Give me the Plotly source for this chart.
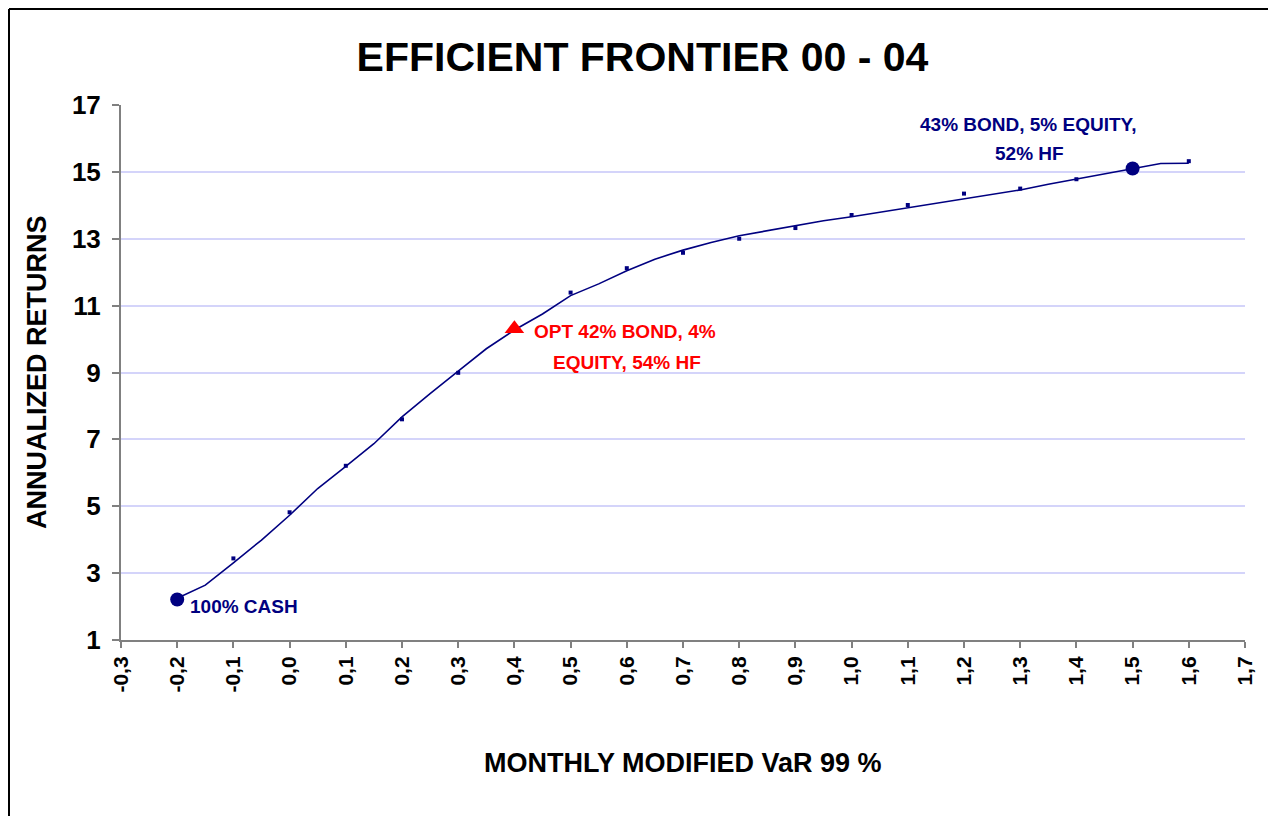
import plotly.graph_objects as go

# Frontier line
line_var = [-0.20, -0.15, -0.10, -0.05, 0.00, 0.05, 0.10, 0.15, 0.20, 0.25, 0.30, 0.35,
            0.40, 0.45, 0.50, 0.55, 0.60, 0.65, 0.70, 0.75, 0.80, 0.85, 0.90, 0.95,
            1.00, 1.05, 1.10, 1.15, 1.20, 1.25, 1.30, 1.35, 1.40, 1.45, 1.50, 1.55, 1.60]
line_ret = [2.25, 2.64, 3.31, 3.99, 4.73, 5.53, 6.19, 6.87, 7.67, 8.37, 9.04, 9.71,
            10.27, 10.75, 11.30, 11.65, 12.04, 12.39, 12.66, 12.89, 13.09, 13.24, 13.39, 13.54,
            13.66, 13.79, 13.92, 14.06, 14.18, 14.33, 14.46, 14.63, 14.78, 14.93, 15.10, 15.25, 15.26]

# Sample portfolios (small square points)
pt_var = [-0.1, 0.0, 0.1, 0.2, 0.3, 0.5, 0.6, 0.7, 0.8, 0.9, 1.0, 1.1, 1.2, 1.3, 1.4, 1.6]
pt_ret = [3.44, 4.82, 6.21, 7.60, 8.99, 11.39, 12.12, 12.58, 13.00, 13.32, 13.71, 14.01, 14.35, 14.50, 14.78, 15.32]

# Highlighted portfolios
cash_var, cash_ret = [-0.2], [2.21]
max_var, max_ret = [1.5], [15.10]
opt_var, opt_ret = [0.4], [10.31]

x_ticks = [round(-0.3 + 0.1 * i, 1) for i in range(21)]
y_ticks = [1, 3, 5, 7, 9, 11, 13, 15, 17]

NAVY = "#000080"
RED = "#ff0000"
FONT = "Liberation Sans, Arial, sans-serif"

W, H = 1268, 808
L, T = 113, 97
PW, PH = 1124, 535

def px_x(v):  # svg pixel -> paper x
    return (v - L) / PW

def px_y(v):  # svg pixel -> paper y
    return (T + PH - v) / PH

fig = go.Figure()
fig.add_trace(go.Scatter(x=line_var, y=line_ret, mode="lines",
                         line=dict(color=NAVY, width=1.6), showlegend=False, hoverinfo="skip"))
fig.add_trace(go.Scatter(x=pt_var, y=pt_ret, mode="markers",
                         marker=dict(symbol="square", size=4, color=NAVY), showlegend=False))
fig.add_trace(go.Scatter(x=cash_var + max_var, y=cash_ret + max_ret, mode="markers",
                         marker=dict(symbol="circle", size=14, color=NAVY), showlegend=False))
fig.add_trace(go.Scatter(x=opt_var, y=opt_ret, mode="markers",
                         marker=dict(symbol="triangle-up", size=17, color=RED), showlegend=False))

ann_font_navy = dict(family=FONT, size=19, color=NAVY)
ann_font_red = dict(family=FONT, size=19, color=RED)
annotations = [
    dict(x=-0.181, y=2.01, xref="x", yref="y", text="<b>100% CASH</b>", showarrow=False,
         xanchor="left", yanchor="middle", font=ann_font_navy),
    dict(x=0.597, y=10.22, xref="x", yref="y", text="<b>OPT 42% BOND, 4%</b>", showarrow=False,
         xanchor="center", yanchor="middle", font=ann_font_red),
    dict(x=0.600, y=9.30, xref="x", yref="y", text="<b>EQUITY, 54% HF</b>", showarrow=False,
         xanchor="center", yanchor="middle", font=ann_font_red),
    dict(x=1.314, y=16.43, xref="x", yref="y", text="<b>43% BOND, 5% EQUITY,</b>", showarrow=False,
         xanchor="center", yanchor="middle", font=ann_font_navy),
    dict(x=1.317, y=15.54, xref="x", yref="y", text="<b>52% HF</b>", showarrow=False,
         xanchor="center", yanchor="middle", font=ann_font_navy),
    dict(x=0.5, y=-0.2299, xref="paper", yref="paper", text="<b>MONTHLY MODIFIED VaR 99 %</b>",
         showarrow=False, xanchor="center", yanchor="middle",
         font=dict(family=FONT, size=27, color="black")),
    dict(x=-0.0747, y=0.501, xref="paper", yref="paper", text="<b>ANNUALIZED RETURNS</b>",
         showarrow=False, xanchor="center", yanchor="middle", textangle=-90,
         font=dict(family=FONT, size=27, color="black")),
]

border = dict(color="black", width=2)
shapes = [
    dict(type="line", xref="paper", yref="paper", x0=px_x(1), x1=px_x(1), y0=px_y(W), y1=px_y(1), line=border),
    dict(type="line", xref="paper", yref="paper", x0=px_x(1), x1=px_x(1265), y0=px_y(1), y1=px_y(1), line=border),
    dict(type="line", xref="paper", yref="paper", x0=px_x(1265), x1=px_x(1265), y0=px_y(W), y1=px_y(1), line=border),
]

fig.update_layout(
    width=W, height=H,
    margin=dict(l=L, r=W - L - PW, t=T, b=H - T - PH),
    paper_bgcolor="white", plot_bgcolor="white",
    separators=",.",
    title=dict(text="<b>EFFICIENT FRONTIER 00 - 04</b>", x=(642.5 - 8) / W, xref="container",
               y=1 - 49 / H, yref="container", xanchor="center", yanchor="middle",
               font=dict(family=FONT, size=41, color="black")),
    annotations=annotations,
    shapes=shapes,
    font=dict(family=FONT, color="black"),
)

fig.update_xaxes(range=[-0.3, 1.7], tickmode="array", tickvals=x_ticks,
                 tickformat=".1f", tickangle=-90, showgrid=False, zeroline=False,
                 showline=True, linecolor="#808080", linewidth=2,
                 ticks="outside", ticklen=6, tickcolor="#808080", tickwidth=2,
                 tickfont=dict(family=FONT, size=21, color="black"))
fig.update_yaxes(range=[1, 17], tickmode="array", tickvals=y_ticks,
                 showgrid=True, gridcolor="#d4d4fa", gridwidth=1.5, zeroline=False,
                 showline=True, linecolor="#808080", linewidth=2,
                 ticks="outside", ticklen=7, tickcolor="#808080", tickwidth=2,
                 ticklabelstandoff=6,
                 tickfont=dict(family=FONT, size=26, color="black"))

# bold tick labels
fig.update_xaxes(ticktext=[f"<b>{v:.1f}</b>".replace(".", ",") for v in x_ticks])
fig.update_yaxes(ticktext=[f"<b>{v}</b>" for v in y_ticks])

fig.write_html("out.html")
